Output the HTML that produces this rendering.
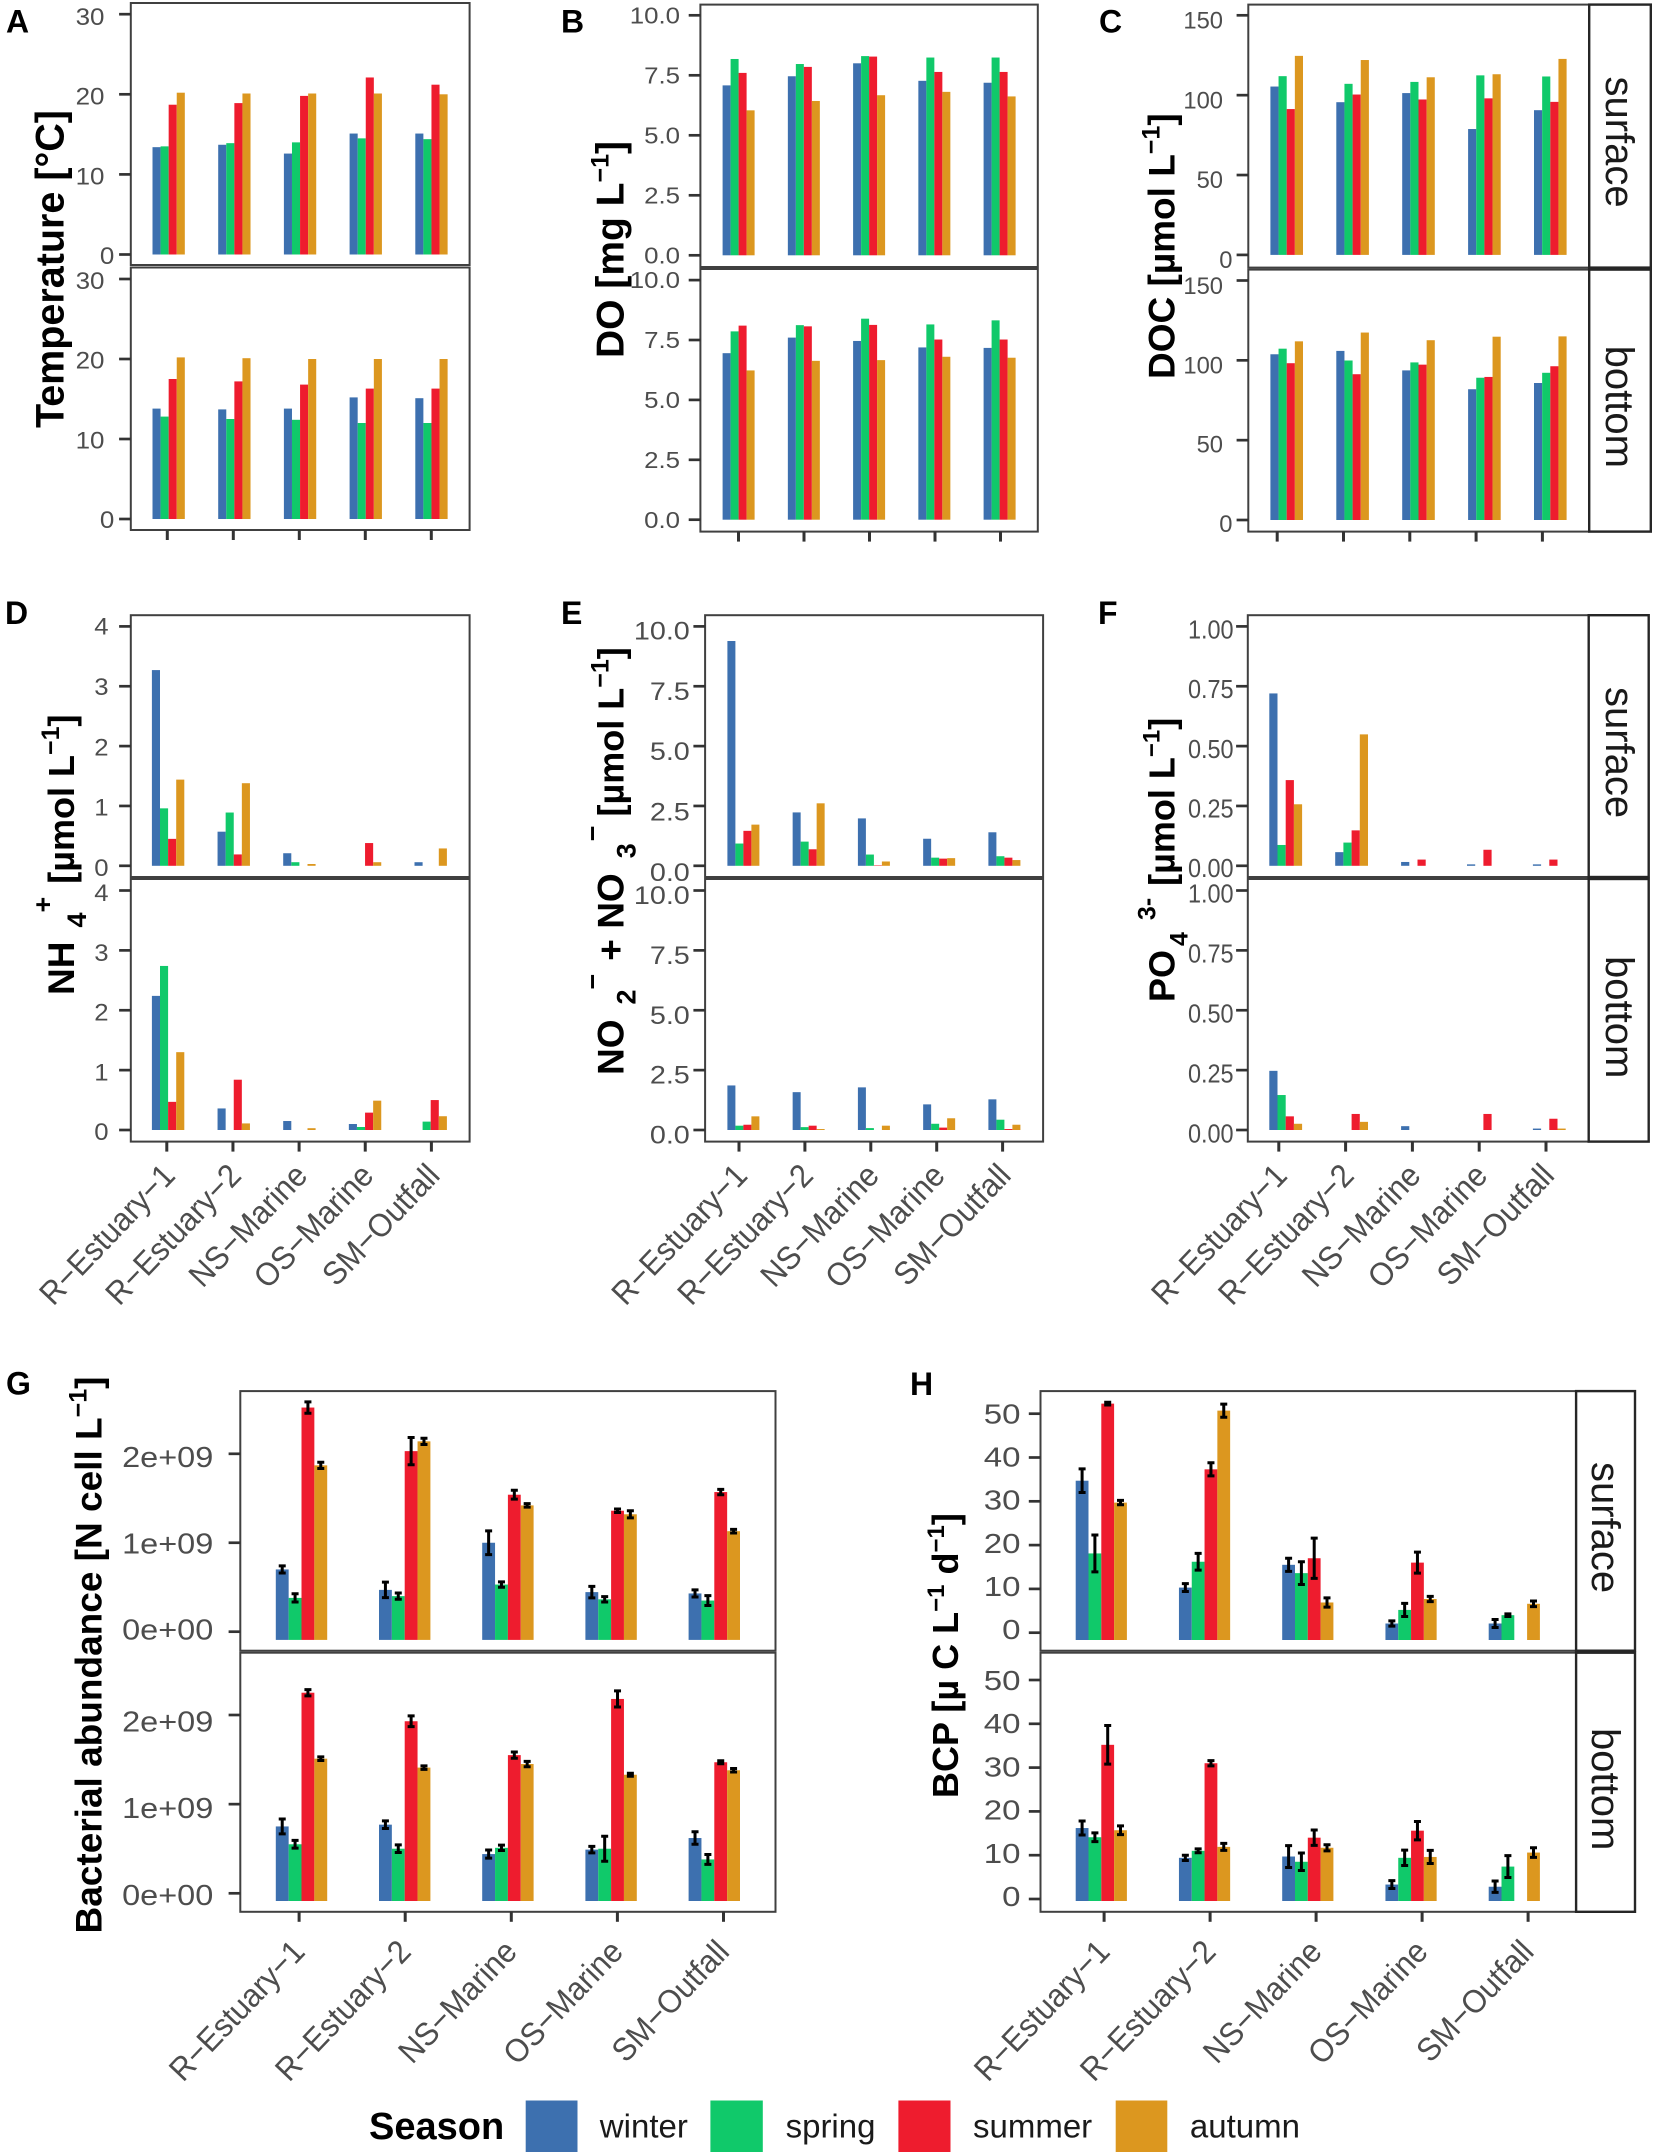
<!DOCTYPE html>
<html lang="en">
<head>
<meta charset="utf-8">
<title>Seasonal water chemistry and bacterial panels</title>
<style>
html,body{margin:0;padding:0;background:#fff;}
svg{display:block;font-family:"Liberation Sans",Arial,sans-serif;}
.title{font-weight:bold;fill:#000;}
.letter{font-weight:bold;fill:#000;font-size:32px;}
.strip{fill:#1a1a1a;font-size:40px;}
.leg{font-size:33px;fill:#1a1a1a;}
</style>
</head>
<body>
<svg id="chart" xmlns="http://www.w3.org/2000/svg" width="1655" height="2156" viewBox="0 0 1655 2156">
  <rect width="1655" height="2156" fill="#fff"/>
  <g id="marks"></g>

  <text class="letter" x="6" y="32.5">A</text>
  <text class="letter" x="561" y="32.5">B</text>
  <text class="letter" x="1099" y="32.5">C</text>
  <text class="letter" x="5" y="624">D</text>
  <text class="letter" x="561" y="624">E</text>
  <text class="letter" x="1098" y="624">F</text>
  <text class="letter" x="6" y="1394.7">G</text>
  <text class="letter" x="910" y="1395">H</text>

  <text class="title" font-size="39.5" transform="translate(63.5,428) rotate(-90)">Temperature [°C]</text>
  <text class="title" font-size="39" transform="translate(623.6,358) rotate(-90)">DO [mg L<tspan font-size="25" dy="-15">−1</tspan><tspan dy="15">]</tspan></text>
  <text class="title" font-size="37" transform="translate(1174.6,379) rotate(-90)">DOC [µmol L<tspan font-size="25" dy="-15">−1</tspan><tspan dy="15">]</tspan></text>
  <text class="title" font-size="37" transform="translate(74,995) rotate(-90)">NH<tspan font-size="27" dy="12" dx="14">4</tspan><tspan font-size="27" dy="-34">+</tspan><tspan font-size="36" dy="22" dx="13">[µmol L</tspan><tspan font-size="25" dy="-15">−1</tspan><tspan font-size="36" dy="15">]</tspan></text>
  <text class="title" font-size="37" transform="translate(623.6,1075) rotate(-90)">NO<tspan font-size="27" dy="12" dx="15">2</tspan><tspan font-size="27" dy="-34">−</tspan><tspan dy="22" dx="13">+ NO</tspan><tspan font-size="27" dy="12" dx="15">3</tspan><tspan font-size="27" dy="-34" dx="2">−</tspan><tspan font-size="36" dy="22" dx="9">[µmol L</tspan><tspan font-size="25" dy="-15">−1</tspan><tspan font-size="36" dy="15">]</tspan></text>
  <text class="title" font-size="36" transform="translate(1174.6,1002) rotate(-90)">PO<tspan font-size="25" dy="13" dx="4">4</tspan><tspan font-size="25" dy="-32" dx="12">3-</tspan><tspan font-size="36" dy="19" dx="12">[µmol L</tspan><tspan font-size="24" dy="-15">−1</tspan><tspan font-size="36" dy="15">]</tspan></text>
  <text class="title" font-size="37" transform="translate(101.6,1933.5) rotate(-90)">Bacterial abundance [N cell L<tspan font-size="25" dy="-15">−1</tspan><tspan dy="15">]</tspan></text>
  <text class="title" font-size="36" transform="translate(957.9,1798) rotate(-90)">BCP [µ C L<tspan font-size="24" dy="-14">−1</tspan><tspan dy="14"> d</tspan><tspan font-size="24" dy="-14">−1</tspan><tspan dy="14">]</tspan></text>

  <text class="strip" transform="translate(1606,76.5) rotate(90)">surface</text>
  <text class="strip" transform="translate(1606,345.6) rotate(90)">bottom</text>
  <text class="strip" transform="translate(1606,687) rotate(90)">surface</text>
  <text class="strip" transform="translate(1606,956) rotate(90)">bottom</text>
  <text class="strip" transform="translate(1592,1462) rotate(90)">surface</text>
  <text class="strip" transform="translate(1592,1728) rotate(90)">bottom</text>

  <g>
    <text x="369" y="2139" font-size="38" font-weight="bold" fill="#000">Season</text>
    <rect x="525.7" y="2100.5" width="51.8" height="51.5" fill="#3D70AF"/>
    <text class="leg" x="599.8" y="2137.6">winter</text>
    <rect x="710.4" y="2100.5" width="52.4" height="51.5" fill="#10C96A"/>
    <text class="leg" x="785.6" y="2137.6">spring</text>
    <rect x="898.4" y="2100.5" width="52.1" height="51.5" fill="#EE1C2E"/>
    <text class="leg" x="973" y="2137.6">summer</text>
    <rect x="1115.7" y="2100.5" width="51.6" height="51.5" fill="#DC971F"/>
    <text class="leg" x="1189.9" y="2137.6">autumn</text>
  </g>
</svg>

<script>
// Categories and series
const sites = ['R−Estuary−1', 'R−Estuary−2', 'NS−Marine', 'OS−Marine', 'SM−Outfall'];
const seasons = ['winter', 'spring', 'summer', 'autumn'];
const seasonColors = ['#3D70AF', '#10C96A', '#EE1C2E', '#DC971F'];

// Tick labels
const tempTicks = ['0', '10', '20', '30'];
const doTicks = ['0.0', '2.5', '5.0', '7.5', '10.0'];
const docTicks = ['0', '50', '100', '150'];
const nh4Ticks = ['0', '1', '2', '3', '4'];
const noxTicks = ['0.0', '2.5', '5.0', '7.5', '10.0'];
const po4Ticks = ['0.00', '0.25', '0.50', '0.75', '1.00'];
const abundanceTicks = ['0e+00', '1e+09', '2e+09'];
const bcpTicks = ['0', '10', '20', '30', '40', '50'];

// Values per site: [winter, spring, summer, autumn]
const tempSurface = [[13.4,13.5,18.7,20.2],[13.7,13.9,18.9,20.1],[12.6,14.0,19.8,20.1],[15.1,14.5,22.1,20.1],[15.1,14.4,21.2,20.0]];
const tempBottom = [[13.8,12.8,17.5,20.2],[13.7,12.5,17.2,20.1],[13.8,12.4,16.8,20.0],[15.2,12.0,16.3,20.0],[15.1,12.0,16.3,20.0]];
const doSurface = [[7.08,8.18,7.6,6.04],[7.46,7.97,7.85,6.43],[8.0,8.3,8.28,6.67],[7.27,8.24,7.64,6.81],[7.19,8.24,7.64,6.62]];
const doBottom = [[6.95,7.86,8.1,6.23],[7.6,8.12,8.07,6.63],[7.46,8.39,8.13,6.66],[7.19,8.15,7.52,6.8],[7.17,8.32,7.52,6.76]];
const docSurface = [[105.4,111.9,91.3,124.6],[95.6,107.1,100.4,122],[101.3,108.3,97.3,111.2],[78.8,112.4,98,113.1],[90.6,111.7,95.8,122.7]];
const docBottom = [[103.8,107.3,98.2,111.9],[105.9,99.9,91.3,117.4],[93.7,98.7,97.3,112.6],[81.9,89.1,89.6,114.8],[85.8,92.2,96.3,115]];
const nh4Surface = [[3.27,0.96,0.45,1.44],[0.57,0.89,0.19,1.38],[0.21,0.06,0,0.03],[0,0,0.38,0.06],[0.06,0,0,0.29]];
const nh4Bottom = [[2.24,2.74,0.47,1.3],[0.36,0,0.84,0.11],[0.15,0,0,0.03],[0.1,0.05,0.29,0.49],[0,0.14,0.5,0.23]];
const noxSurface = [[9.39,0.93,1.46,1.72],[2.23,1.01,0.69,2.61],[1.98,0.47,0.02,0.18],[1.13,0.34,0.3,0.32],[1.4,0.4,0.34,0.24]];
const noxBottom = [[1.86,0.18,0.22,0.57],[1.58,0.12,0.18,0.04],[1.78,0.08,0,0.18],[1.07,0.26,0.1,0.49],[1.28,0.43,0.04,0.22]];
const po4Surface = [[0.72,0.087,0.358,0.257],[0.057,0.097,0.148,0.549],[0.016,0,0.026,0],[0.006,0,0.067,0],[0.006,0,0.026,0]];
const po4Bottom = [[0.247,0.146,0.057,0.026],[0,0,0.067,0.034],[0.016,0,0,0],[0,0,0.067,0],[0.006,0,0.047,0.006]];
const abundanceSurface = [[0.70e9,0.38e9,2.52e9,1.87e9],[0.47e9,0.40e9,2.03e9,2.14e9],[1.0e9,0.53e9,1.54e9,1.42e9],[0.445e9,0.364e9,1.36e9,1.32e9],[0.43e9,0.35e9,1.57e9,1.13e9]];
const abundanceSurfaceErr = [[0.04e9,0.046e9,0.064e9,0.035e9],[0.087e9,0.035e9,0.153e9,0.035e9],[0.133e9,0.03e9,0.05e9,0.02e9],[0.065e9,0.03e9,0.02e9,0.04e9],[0.04e9,0.055e9,0.03e9,0.02e9]];
const abundanceBottom = [[0.75e9,0.55e9,2.25e9,1.51e9],[0.77e9,0.50e9,1.93e9,1.41e9],[0.44e9,0.51e9,1.55e9,1.45e9],[0.49e9,0.50e9,2.18e9,1.33e9],[0.62e9,0.38e9,1.47e9,1.38e9]];
const abundanceBottomErr = [[0.083e9,0.043e9,0.035e9,0.02e9],[0.043e9,0.043e9,0.06e9,0.02e9],[0.046e9,0.03e9,0.035e9,0.03e9],[0.037e9,0.14e9,0.09e9,0.017e9],[0.07e9,0.055e9,0.017e9,0.02e9]];
const bcpSurface = [[34.7,18.1,52.3,29.7],[10.3,16.2,37.3,50.7],[15.5,13.6,17,6.9],[2.1,5.2,16,7.7],[2.1,4,0,6.6]];
const bcpSurfaceErr = [[2.7,4.2,0.3,0.5],[0.9,1.9,1.5,1.5],[1.5,2.6,4.6,1.05],[0.6,1.5,2.4,0.6],[0.9,0.3,0,0.65]];
const bcpBottom = [[16.2,14.1,35.2,15.7],[9.4,11,31,11.9],[9.7,8.5,14,11.7],[3.3,9.4,15.6,9.6],[2.8,7.4,0,10.6]];
const bcpBottomErr = [[1.6,1.0,4.4,1.0],[0.6,0.45,0.6,0.8],[2.5,2,1.75,0.7],[0.9,1.75,2.1,1.5],[1.3,2.5,0,1.1]];

const NS = 'http://www.w3.org/2000/svg';
const root = document.getElementById('marks');

function make(tag, attrs, parent) {
  const el = document.createElementNS(NS, tag);
  for (const k in attrs) el.setAttribute(k, attrs[k]);
  parent.appendChild(el);
  return el;
}

// Axis functions: a linear value-to-pixel scale, and a band scale for dodged bars
function linearAxis(zeroPx, topPx, topValue) {
  return function (v) { return zeroPx + (topPx - zeroPx) * v / topValue; };
}
function bandAxis(start, step, barWidth) {
  return function (site, season) { return start + step * site + barWidth * season; };
}

function drawFacet(panel, facet, name) {
  const g = make('g', {}, root);
  
  

  const border = make('rect', {
    x: panel.left, y: facet.top, width: panel.right - panel.left, height: facet.bottom - facet.top,
    fill: '#fff', stroke: '#404040', 'stroke-width': 2
  }, g);
  
  

  const topValue = parseFloat(panel.ticks[panel.ticks.length - 1]);
  const tickY = linearAxis(facet.tickZero, facet.tickTop, topValue);
  const labelY = linearAxis(facet.labelZero, facet.labelTop, topValue);
  const valueY = tickY;
  const barX = bandAxis(panel.barStart, panel.barStep, panel.barWidth);

  panel.ticks.forEach(function (label) {
    const v = parseFloat(label);
    const tick = make('line', {
      x1: panel.left - 11.7, x2: panel.left, y1: tickY(v), y2: tickY(v),
      stroke: '#333', 'stroke-width': 2.7
    }, g);
    
    
    const zeroShift = (v === 0 && panel.zeroShift) ? panel.zeroShift : 0;
    const text = make('text', {
      transform: 'translate(' + (panel.labelRight + zeroShift) + ',' + labelY(v) + ') scale(' + panel.fontSx + ',1)',
      'text-anchor': 'end', 'font-size': panel.fontSize, fill: '#4d4d4d'
    }, g);
    text.textContent = label;
    
    
  });

  facet.values.forEach(function (row, site) {
    row.forEach(function (value, season) {
      if (value === 0) return;
      const yTop = valueY(value);
      const base = facet.barBase === undefined ? valueY(0) : facet.barBase;
      const bar = make('rect', {
        x: barX(site, season), y: yTop, width: panel.barWidth, height: base - yTop,
        fill: seasonColors[season]
      }, g);
      
      
    });
  });

  if (facet.errors) {
    facet.values.forEach(function (row, site) {
      row.forEach(function (value, season) {
        if (value === 0) return;
        const err = facet.errors[site][season];
        const cx = barX(site, season) + panel.barWidth / 2;
        const hi = valueY(value + err);
        const lo = valueY(value - err);
        const d = 'M' + cx + ' ' + hi + 'V' + lo +
          'M' + (cx - 3.5) + ' ' + hi + 'H' + (cx + 3.5) +
          'M' + (cx - 3.5) + ' ' + lo + 'H' + (cx + 3.5);
        const bar = make('path', { d: d, stroke: '#000', 'stroke-width': 3, fill: 'none' }, g);
        
        
      });
    });
  }
}

function drawPanel(panel) {
  drawFacet(panel, panel.upper, 'surface');
  drawFacet(panel, panel.lower, 'bottom');

  if (panel.stripRight) {
    [panel.upper, panel.lower].forEach(function (facet) {
      const strip = make('rect', {
        x: panel.right, y: facet.top, width: panel.stripRight - panel.right, height: facet.bottom - facet.top,
        fill: '#fff', stroke: '#262626', 'stroke-width': 2.4
      }, root);
      
      
    });
  }

  const bottom = panel.lower.bottom;
  sites.forEach(function (site, i) {
    const x = panel.tickStart + panel.tickStep * i;
    const tick = make('line', {
      x1: x, x2: x, y1: bottom, y2: bottom + 10, stroke: '#333', 'stroke-width': 3
    }, root);
    
    
    if (panel.showSites) {
      const ax = x + panel.siteDx;
      const ay = bottom + panel.siteDy;
      const label = make('text', {
        transform: 'translate(' + ax + ',' + ay + ') rotate(-46.4) scale(1,1.06)',
        'text-anchor': 'end', 'font-size': panel.siteFont, fill: '#4d4d4d'
      }, root);
      label.textContent = site;
      
      
    }
  });
}

drawPanel({ id: 'a', ticks: tempTicks, left: 130.8, right: 469.6, labelRight: 104.5, zeroShift: 9.8, fontSize: 23.6, fontSx: 1.1,
  barStart: 152.5, barStep: 65.7, barWidth: 8.08, tickStart: 167.3, tickStep: 66,
  upper: { top: 3, bottom: 265, tickZero: 254.5, tickTop: 14.2, labelZero: 264, labelTop: 24.9, values: tempSurface },
  lower: { top: 267.5, bottom: 530, tickZero: 519, tickTop: 279, labelZero: 528, labelTop: 289, values: tempBottom } });
drawPanel({ id: 'b', ticks: doTicks, left: 700.4, right: 1037.8, labelRight: 680, fontSize: 23.5, fontSx: 1.1,
  barStart: 722.6, barStep: 65.25, barWidth: 8, tickStart: 738.5, tickStep: 65.5,
  upper: { top: 4.6, bottom: 267, tickZero: 255.3, tickTop: 15.3, labelZero: 263.3, labelTop: 23.7, values: doSurface },
  lower: { top: 269, bottom: 531.6, tickZero: 519.7, tickTop: 280.1, labelZero: 528, labelTop: 287.8, values: doBottom } });
drawPanel({ id: 'c', ticks: docTicks, left: 1248.3, right: 1589.2, stripRight: 1650.8, labelRight: 1223, zeroShift: 9.5, fontSize: 24.5, fontSx: 0.97,
  barStart: 1270.4, barStep: 65.9, barWidth: 8.15, tickStart: 1277.2, tickStep: 66.3,
  upper: { top: 4.6, bottom: 267.6, tickZero: 254.9, tickTop: 15.3, labelZero: 268, labelTop: 28.7, values: docSurface },
  lower: { top: 269.6, bottom: 531.6, tickZero: 520, tickTop: 280.5, labelZero: 532, labelTop: 294, values: docBottom } });
drawPanel({ id: 'd', ticks: nh4Ticks, left: 130.8, right: 469.6, labelRight: 108.5, fontSize: 24.5, fontSx: 1.05,
  barStart: 151.9, barStep: 65.65, barWidth: 8.1, tickStart: 166.8, tickStep: 66.15,
  showSites: true, siteFont: 30.7, siteDx: 10, siteDy: 35.5,
  upper: { top: 615.2, bottom: 877, tickZero: 865.8, tickTop: 626.4, labelZero: 876, labelTop: 634.6, values: nh4Surface },
  lower: { top: 879, bottom: 1141.6, tickZero: 1130, tickTop: 890.5, labelZero: 1140, labelTop: 901, values: nh4Bottom } });
drawPanel({ id: 'e', ticks: noxTicks, left: 705.1, right: 1043.1, labelRight: 689.8, fontSize: 25, fontSx: 1.15,
  barStart: 727.4, barStep: 65.25, barWidth: 8, tickStart: 739, tickStep: 65.9,
  showSites: true, siteFont: 30.7, siteDx: 10, siteDy: 35.5,
  upper: { top: 615.2, bottom: 877, tickZero: 865.8, tickTop: 626.4, labelZero: 880.8, labelTop: 639.4, values: noxSurface },
  lower: { top: 879, bottom: 1141.6, tickZero: 1130, tickTop: 890.5, labelZero: 1143.5, labelTop: 904, values: noxBottom } });
drawPanel({ id: 'f', ticks: po4Ticks, left: 1247.8, right: 1588.7, stripRight: 1648.7, labelRight: 1233.6, fontSize: 25.5, fontSx: 0.92,
  barStart: 1269.3, barStep: 65.9, barWidth: 8.2, tickStart: 1278.8, tickStep: 66.8,
  showSites: true, siteFont: 30.7, siteDx: 10, siteDy: 35.5,
  upper: { top: 615.2, bottom: 877, tickZero: 865.8, tickTop: 626.4, labelZero: 877, labelTop: 638.5, values: po4Surface },
  lower: { top: 879, bottom: 1141.6, tickZero: 1130, tickTop: 890.5, labelZero: 1142.6, labelTop: 902.6, values: po4Bottom } });
drawPanel({ id: 'g', ticks: abundanceTicks, left: 240.3, right: 775.5, labelRight: 213.3, fontSize: 29, fontSx: 1.12,
  barStart: 275.8, barStep: 103.2, barWidth: 12.85, tickStart: 299.1, tickStep: 106.1,
  showSites: true, siteFont: 30.7, siteDx: 7.4, siteDy: 41.5,
  upper: { top: 1391.1, bottom: 1650.7, tickZero: 1631.7, tickTop: 1453.8, labelZero: 1639.4, labelTop: 1467.2, barBase: 1639.9, values: abundanceSurface, errors: abundanceSurfaceErr },
  lower: { top: 1652.7, bottom: 1911.8, tickZero: 1893.3, tickTop: 1715, labelZero: 1905, labelTop: 1731.4, barBase: 1901, values: abundanceBottom, errors: abundanceBottomErr } });
drawPanel({ id: 'h', ticks: bcpTicks, left: 1040.5, right: 1576.1, stripRight: 1635, labelRight: 1020.5, fontSize: 28, fontSx: 1.18,
  barStart: 1075.7, barStep: 103.25, barWidth: 12.8, tickStart: 1104.1, tickStep: 106,
  showSites: true, siteFont: 30.7, siteDx: 7.4, siteDy: 41.5,
  upper: { top: 1391.1, bottom: 1650.7, tickZero: 1632.7, tickTop: 1413.7, labelZero: 1639, labelTop: 1423.5, barBase: 1640, values: bcpSurface, errors: bcpSurfaceErr },
  lower: { top: 1652.7, bottom: 1911.8, tickZero: 1899, tickTop: 1680, labelZero: 1906, labelTop: 1690, barBase: 1901, values: bcpBottom, errors: bcpBottomErr } });
</script>
</body>
</html>
